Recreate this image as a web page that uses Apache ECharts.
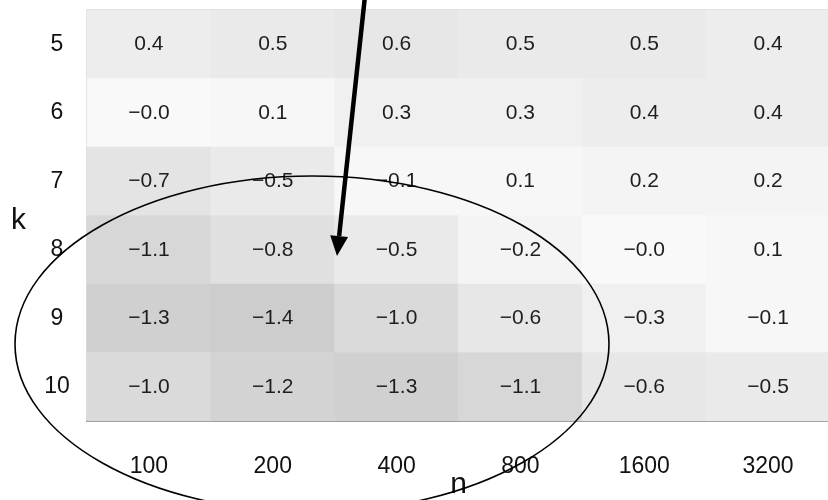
<!DOCTYPE html>
<html>
<head>
<meta charset="utf-8">
<script src="https://cdn.jsdelivr.net/npm/echarts@6/dist/echarts.min.js"></script>
<style>html,body{margin:0;padding:0;background:#fff;}#chart{width:828px;height:500px;}</style>
</head>
<body>
<div id="chart"></div>
<script>
const nLabels = ['100', '200', '400', '800', '1600', '3200'];
const kLabels = ['5', '6', '7', '8', '9', '10'];
const row5 = [0.4, 0.5, 0.6, 0.5, 0.5, 0.4];
const row6 = [-0.02, 0.1, 0.3, 0.3, 0.4, 0.4];
const row7 = [-0.7, -0.5, -0.1, 0.1, 0.2, 0.2];
const row8 = [-1.1, -0.8, -0.5, -0.2, -0.02, 0.1];
const row9 = [-1.3, -1.4, -1.0, -0.6, -0.3, -0.1];
const row10 = [-1.0, -1.2, -1.3, -1.1, -0.6, -0.5];
const rows = [row5, row6, row7, row8, row9, row10];

const data = [];
rows.forEach((r, yi) => r.forEach((v, xi) => data.push([xi, yi, v])));

const FONT = '"Liberation Sans", Arial, Helvetica, sans-serif';
const chart = echarts.init(document.getElementById('chart'));

// annotation arrow geometry (pixel space)
const tip = [337, 256], tail = [365, -4];
const dx = tip[0] - tail[0], dy = tip[1] - tail[1];
const len = Math.hypot(dx, dy), ux = dx / len, uy = dy / len;
const headLen = 20, headHalf = 9;
const base = [tip[0] - ux * headLen, tip[1] - uy * headLen];
const px = -uy, py = ux;

chart.setOption({
  animation: false,
  backgroundColor: '#fff',
  grid: { left: 87, right: -2, top: 10, bottom: 79, show: true, borderColor: '#bdbdbd', borderWidth: 1, outerBoundsMode: 'none', containLabel: false },
  xAxis: {
    type: 'category', data: nLabels, name: 'n', nameLocation: 'middle', nameGap: 49, nameMoveOverlap: false,
    nameTextStyle: { fontSize: 30, color: '#111', fontFamily: FONT },
    axisLine: { show: true, lineStyle: { color: '#8c8c8c', width: 2 } },
    axisTick: { show: false }, splitLine: { show: false },
    axisLabel: { fontSize: 23, color: '#111', fontFamily: FONT, margin: 34 }
  },
  yAxis: {
    type: 'category', data: kLabels, inverse: true, name: 'k', nameLocation: 'middle', nameGap: 61, nameRotate: 0, nameMoveOverlap: false,
    nameTextStyle: { fontSize: 30, color: '#111', fontFamily: FONT, verticalAlign: 'top', lineHeight: 10 },
    axisLine: { show: true, lineStyle: { color: '#a8a8a8', width: 1 } },
    axisTick: { show: false }, splitLine: { show: false },
    axisLabel: { fontSize: 23, color: '#111', fontFamily: FONT, margin: 30, align: 'center' }
  },
  visualMap: {
    show: false, type: 'continuous', min: -1.4, max: 1.4, dimension: 2,
    inRange: { color: ['#cdcdcd', '#fafafa', '#cdcdcd'] }
  },
  series: [{
    type: 'heatmap', data: data,
    label: {
      show: true, fontSize: 21, color: '#1e1e1e', fontFamily: FONT,
      formatter: p => p.value[2].toFixed(1).replace('-', '\u2212')
    },
    emphasis: { disabled: true },
    itemStyle: { borderWidth: 0 }
  }],
  graphic: [
    { type: 'ellipse', shape: { cx: 312, cy: 344, rx: 297, ry: 168 }, style: { fill: null, stroke: '#000', lineWidth: 1.6 }, z: 100 },
    { type: 'line', shape: { x1: tail[0], y1: tail[1], x2: base[0], y2: base[1] }, style: { stroke: '#000', lineWidth: 4.5 }, z: 100 },
    { type: 'polygon', shape: { points: [tip, [base[0] + px * headHalf, base[1] + py * headHalf], [base[0] - px * headHalf, base[1] - py * headHalf]] }, style: { fill: '#000' }, z: 100 }
  ]
});
</script>
</body>
</html>
